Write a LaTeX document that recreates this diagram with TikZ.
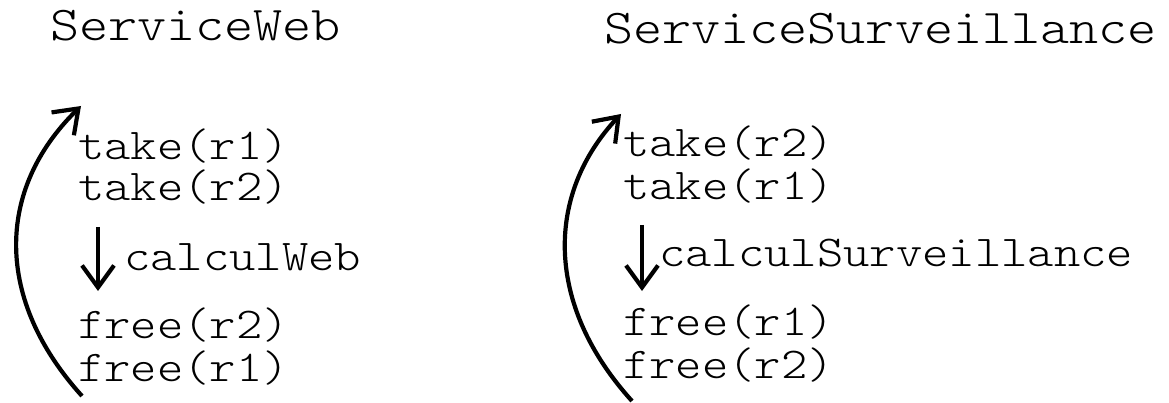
\documentclass[tikz,border=0pt]{standalone}
\usepackage{fontspec}
\newfontfamily\codefont[FakeStretch=1.14]{Latin Modern Mono Light}
\usetikzlibrary{arrows.meta}
\tikzset{
  title/.style={anchor=base west, inner sep=0pt, font=\codefont\fontsize{48.6}{48.6}\selectfont},
  op/.style={anchor=base west, inner sep=0pt, font=\codefont\fontsize{44}{44}\selectfont},
  flow/.style={line width=4.2pt, -{Straight Barb[length=22pt, width=32pt, line width=4.2pt]}},
}
\begin{document}
\begin{tikzpicture}[x=1pt, y=-1pt]
  \useasboundingbox (0,0) rectangle (1169,403);
  % left process
  \node[title] (wTitle) at (50,41) {ServiceWeb};
  \node[op] (wT1) at (78,160) {take(r1)};
  \node[op] (wT2) at (78,201) {take(r2)};
  \node[op] (wCalc) at (124,270) {calculWeb};
  \node[op] (wF2) at (78,338) {free(r2)};
  \node[op] (wF1) at (78,381) {free(r1)};
  \coordinate (wDownA) at (98,227);
  \coordinate (wDownB) at (98,291);
  \coordinate (wLoopA) at (82,396);
  \coordinate (wLoopB) at (81,106);
  \draw[flow] (wDownA) -- (wDownB);
  \draw[flow] (wLoopA) .. controls (-5,300) and (-5,190) .. (wLoopB);
  % right process
  \node[title] (sTitle) at (604,44) {ServiceSurveillance};
  \node[op] (sT1) at (623,157) {take(r2)};
  \node[op] (sT2) at (623,200) {take(r1)};
  \node[op] (sCalc) at (659,266) {calculSurveillance};
  \node[op] (sF1) at (623,335) {free(r1)};
  \node[op] (sF2) at (623,378) {free(r2)};
  \coordinate (sDownA) at (642,225);
  \coordinate (sDownB) at (642,291);
  \coordinate (sLoopA) at (632,401);
  \coordinate (sLoopB) at (621,114);
  \draw[flow] (sDownA) -- (sDownB);
  \draw[flow] (sLoopA) .. controls (545,305) and (545,195) .. (sLoopB);
\end{tikzpicture}
\end{document}
